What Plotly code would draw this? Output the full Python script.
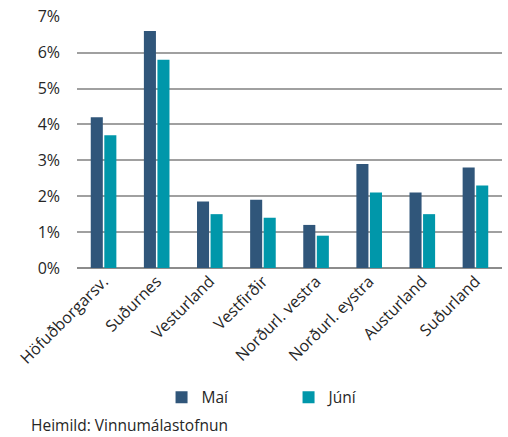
import plotly.graph_objects as go

categories = ["Höfuðborgarsv.", "Suðurnes", "Vesturland", "Vestfirðir",
              "Norðurl. vestra", "Norðurl. eystra", "Austurland", "Suðurland"]
mai = [4.2, 6.6, 1.85, 1.9, 1.2, 2.9, 2.1, 2.8]
juni = [3.7, 5.8, 1.5, 1.4, 0.9, 2.1, 1.5, 2.3]
y_ticks = [0, 1, 2, 3, 4, 5, 6, 7]
y_tick_labels = [f"{v}%" for v in y_ticks]

FONT = "Open Sans"
TXT = "#262626"

fig = go.Figure()
fig.add_trace(go.Bar(name="Maí", x=categories, y=mai, marker_color="#30567a",
                     marker_line_width=0))
fig.add_trace(go.Bar(name="Júní", x=categories, y=juni, marker_color="#0097aa",
                     marker_line_width=0))

fig.update_layout(
    width=508, height=437,
    margin=dict(l=77, r=6, t=16, b=169),
    paper_bgcolor="white", plot_bgcolor="white",
    barmode="group", bargap=0.49, bargroupgap=0.11,
    font=dict(family=FONT, size=15.5, color=TXT),
    showlegend=True,
    legend=dict(orientation="h", xref="container", yref="container",
                x=0.318, y=0.09, xanchor="left", yanchor="middle",
                entrywidth=82, entrywidthmode="pixels",
                font=dict(family=FONT, size=15.5, color=TXT),
                itemclick=False),
    annotations=[dict(text="Heimild: Vinnumálastofnun", xref="paper", yref="paper",
                      x=-0.113, y=-0.623, xanchor="left", yanchor="middle",
                      showarrow=False, font=dict(family=FONT, size=15.5, color=TXT))],
)
fig.update_xaxes(tickangle=-45, showgrid=False, showline=False, ticks="",
                 tickfont=dict(family=FONT, size=16, color=TXT))
fig.update_yaxes(range=[0, 7.02], tickvals=y_ticks, ticktext=y_tick_labels,
                 showgrid=True, gridcolor="#a0a0a0", gridwidth=2,
                 zeroline=True, zerolinecolor="#8c8c8c", zerolinewidth=2,
                 ticks="", ticklabelstandoff=16,
                 tickfont=dict(family=FONT, size=16, color=TXT))

fig.write_html("out.html", config={"displayModeBar": False},
               post_script="document.body.style.margin='0';document.body.style.padding='0';")
